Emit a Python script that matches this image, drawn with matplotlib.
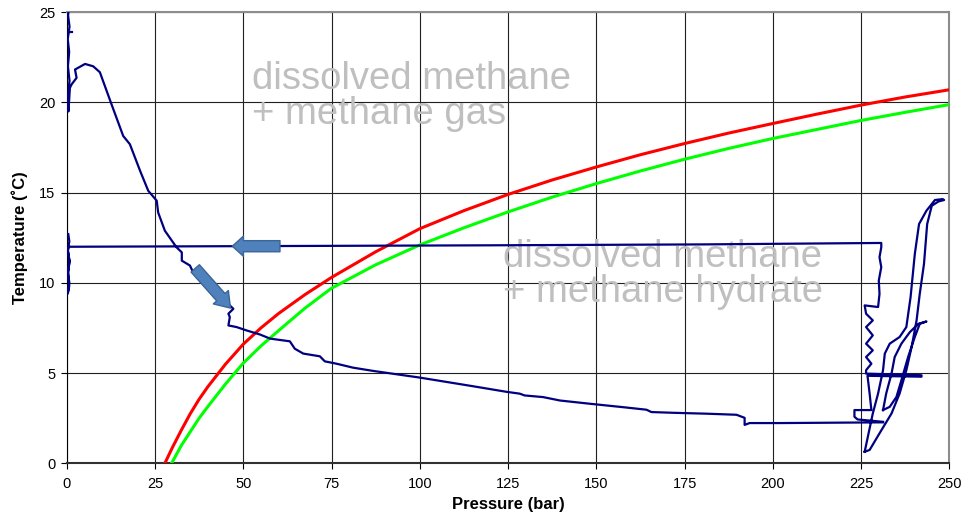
import numpy as np
import matplotlib
matplotlib.use("Agg")
import matplotlib.pyplot as plt
from matplotlib.patches import FancyArrowPatch

plt.rcParams['font.family'] = ['Liberation Sans', 'DejaVu Sans']

# hydrate stability curves (pressure bar, temperature C)
red_p = [27.8, 30, 32.5, 35, 37.5, 40, 45, 50, 55, 60, 67.5, 75, 87.5, 100, 112.5, 125,
         137.5, 150, 162.5, 175, 187.5, 200, 212.5, 225, 237.5, 250]
red_t = [0.0, 0.9, 1.85, 2.75, 3.55, 4.25, 5.5, 6.6, 7.5, 8.3, 9.35, 10.3, 11.72, 13.0, 14.0, 14.9,
         15.7, 16.42, 17.1, 17.72, 18.3, 18.83, 19.35, 19.85, 20.3, 20.7]
green_p = [29.7, 32.5, 35, 37.5, 40, 45, 50, 55, 60, 67.5, 75, 87.5, 100, 112.5, 125,
           137.5, 150, 162.5, 175, 187.5, 200, 212.5, 225, 237.5, 250]
green_t = [0.0, 1.0, 1.75, 2.5, 3.15, 4.4, 5.55, 6.5, 7.35, 8.6, 9.7, 11.0, 12.1, 13.05, 13.93,
           14.75, 15.5, 16.2, 16.85, 17.45, 18.0, 18.5, 19.0, 19.45, 19.88]

# measured P/T trace, segments split by nan
nan = np.nan
trace_p = [
    # cooling at 0 bar, then pressurising at 12 C, then cluster at ~230 bar
    0.45, 0.75, 0.3, 0.8, 0.35, 0.75, 0.3, 0.7, 0.4, 0.8, 0.35, 0.6,
    60, 120, 180, 230.7,
    230.7, 230.2, 230.7, 230.0, 230.2, 229.8,
    226.0, 226.4, 228.3, 226.4, 228.3, 226.4, 228.3, 226.4, 227.9, 226.4, 226.4,
    242.1, 242.1, 226.8,
    227.4, 227.9, 223.1, 223.1, 224.0, 231.2, nan,
    # big loop
    226.0, 226.9, 228.3, 229.8, 231.2, 231.7, 233.1, 235.9, 237.8, 239.0, 240.2, 241.4,
    243.5, 245.9, 248.1, 248.5, 246.9, 245.0, 243.7, 242.8, 241.6, 240.7, 239.3, 237.8,
    235.9, 233.6, 230.2, 227.4, 226.0, nan,
    # small loop
    231.2, 232.1, 233.6, 234.5, 236.4, 238.8, 241.2, 243.5, 241.6, 240.2, 238.3, 236.4,
    235.0, 233.1, 231.2, nan,
    # depressurising back to 0 bar
    231.2, 216.1, 202.0, 193.4, 192.0, 192.0, 189.7, 181.2, 171.7, 165.6, 164.2, 157.6,
    148.2, 139.7, 134.9, 129.7, 128.3, 124.6, 115.1, 100.0, 86.8, 81.1, 76.4, 73.1,
    71.7, 67.0, 64.6, 63.2, 57.6, 54.7, 51.0, 48.1, 45.8, 46.2, 45.8, 47.2, 46.2,
    35.8, 34.9, 32.6, 32.6, 31.1, 27.8, 25.9, 25.5, 23.1, 20.8, 17.9, 16.0, 12.7, 9.4,
    7.5, 5.2, 2.35, 2.8, 1.4, 0.9, 0.5, 0.3, 0.8, 0.35, 0.7, 0.3, 0.8, 0.4, 0.7, 0.5,
    nan, 0.5, 1.5,
]
trace_t = [
    12.7, 12.3, 11.8, 11.2, 10.6, 10.0, 9.4, 9.8, 10.5, 11.2, 11.8, 12.0,
    12.04, 12.08, 12.13, 12.21,
    11.97, 11.42, 10.87, 10.13, 9.39, 8.66,
    8.75, 8.29, 7.92, 7.55, 7.09, 6.63, 6.26, 5.89, 5.52, 5.16, 4.97,
    4.88, 4.80, 4.85,
    3.87, 2.95, 2.95, 2.58, 2.43, 2.30, nan,
    0.64, 1.47, 2.76, 3.87, 5.16, 6.08, 6.63, 7.0, 7.55, 9.21, 11.6, 13.26,
    14.0, 14.59, 14.64, 14.59, 14.51, 14.27, 13.26, 11.05, 9.39, 7.92, 6.45, 5.16,
    3.87, 2.76, 1.66, 0.74, 0.64, nan,
    2.95, 3.87, 4.97, 5.89, 6.63, 7.27, 7.73, 7.86, 7.73, 7.0, 5.89, 4.6,
    3.68, 3.13, 2.95, nan,
    2.27, 2.25, 2.23, 2.23, 2.13, 2.52, 2.69, 2.75, 2.80, 2.84, 2.97, 3.11,
    3.30, 3.48, 3.67, 3.76, 3.86, 3.96, 4.27, 4.75, 5.12, 5.30, 5.52, 5.65,
    5.93, 6.08, 6.35, 6.76, 6.91, 7.14, 7.36, 7.55, 7.64, 8.10, 8.29, 8.56, 8.75,
    10.59, 10.96, 11.23, 11.69, 11.97, 12.89, 13.9, 14.55, 15.1, 16.2, 17.68, 18.14, 19.89, 21.67,
    22.0, 22.13, 21.82, 21.36, 21.0, 20.8, 19.5, 20.3, 21.2, 22.0, 22.8, 23.5, 24.2, 24.8, 25.5, 26.0,
    nan, 23.9, 23.9,
]

fig = plt.figure(figsize=(9.68, 5.19), dpi=100)
ax = fig.add_axes([0.0689, 0.1073, 0.9119, 0.8693])

ax.set_xlim(0, 250)
ax.set_ylim(0, 25)
ax.set_xticks(np.arange(0, 251, 25))
ax.set_yticks(np.arange(0, 26, 5))
ax.grid(True, color='#202020', lw=0.8)
ax.set_axisbelow(True)

ax.plot(red_p, red_t, color='#FF0000', lw=2.2, zorder=3)
ax.plot(green_p, green_t, color='#00FF00', lw=2.2, zorder=3)
ax.plot(trace_p, trace_t, color='#000080', lw=1.6, zorder=4, solid_joinstyle='round')

# the two block arrows
for tail, tip, hl in [((60.4, 12.03), (46.9, 12.03), 0.8), ((36.4, 10.8), (46.4, 8.6), 1.05)]:
    arr = FancyArrowPatch(tail, tip, arrowstyle=f'simple,head_length={hl},head_width=1.45,tail_width=0.8',
                          mutation_scale=10, shrinkA=0, shrinkB=0,
                          fc='#4F81BD', ec='#3A6596', lw=1, zorder=5)
    ax.add_patch(arr)

txt = dict(color='#BFBFBF', fontsize=27.5, va='baseline', ha='left', zorder=2)
ax.text(52.4, 20.72, 'dissolved methane', **txt)
ax.text(52.4, 18.82, '+ methane gas', **txt)
ax.text(123.6, 10.86, 'dissolved methane', **txt)
ax.text(123.6, 8.93, '+ methane hydrate', **txt)

ax.set_xlabel('Pressure (bar)', fontsize=12, fontweight='bold', labelpad=4)
ax.set_ylabel('Temperature (˚C)', fontsize=12, fontweight='bold', labelpad=8)
ax.tick_params(labelsize=10.5, length=4, color='black')
ax.tick_params(axis='x', pad=6)
ax.tick_params(axis='y', pad=4)

for s in ['top', 'right']:
    ax.spines[s].set_color('#8C8C8C')
    ax.spines[s].set_linewidth(1.5)
ax.spines['left'].set_color('black')
ax.spines['bottom'].set_color('#303030')
ax.spines['bottom'].set_linewidth(1.5)

fig.savefig('out.png', dpi=100)
